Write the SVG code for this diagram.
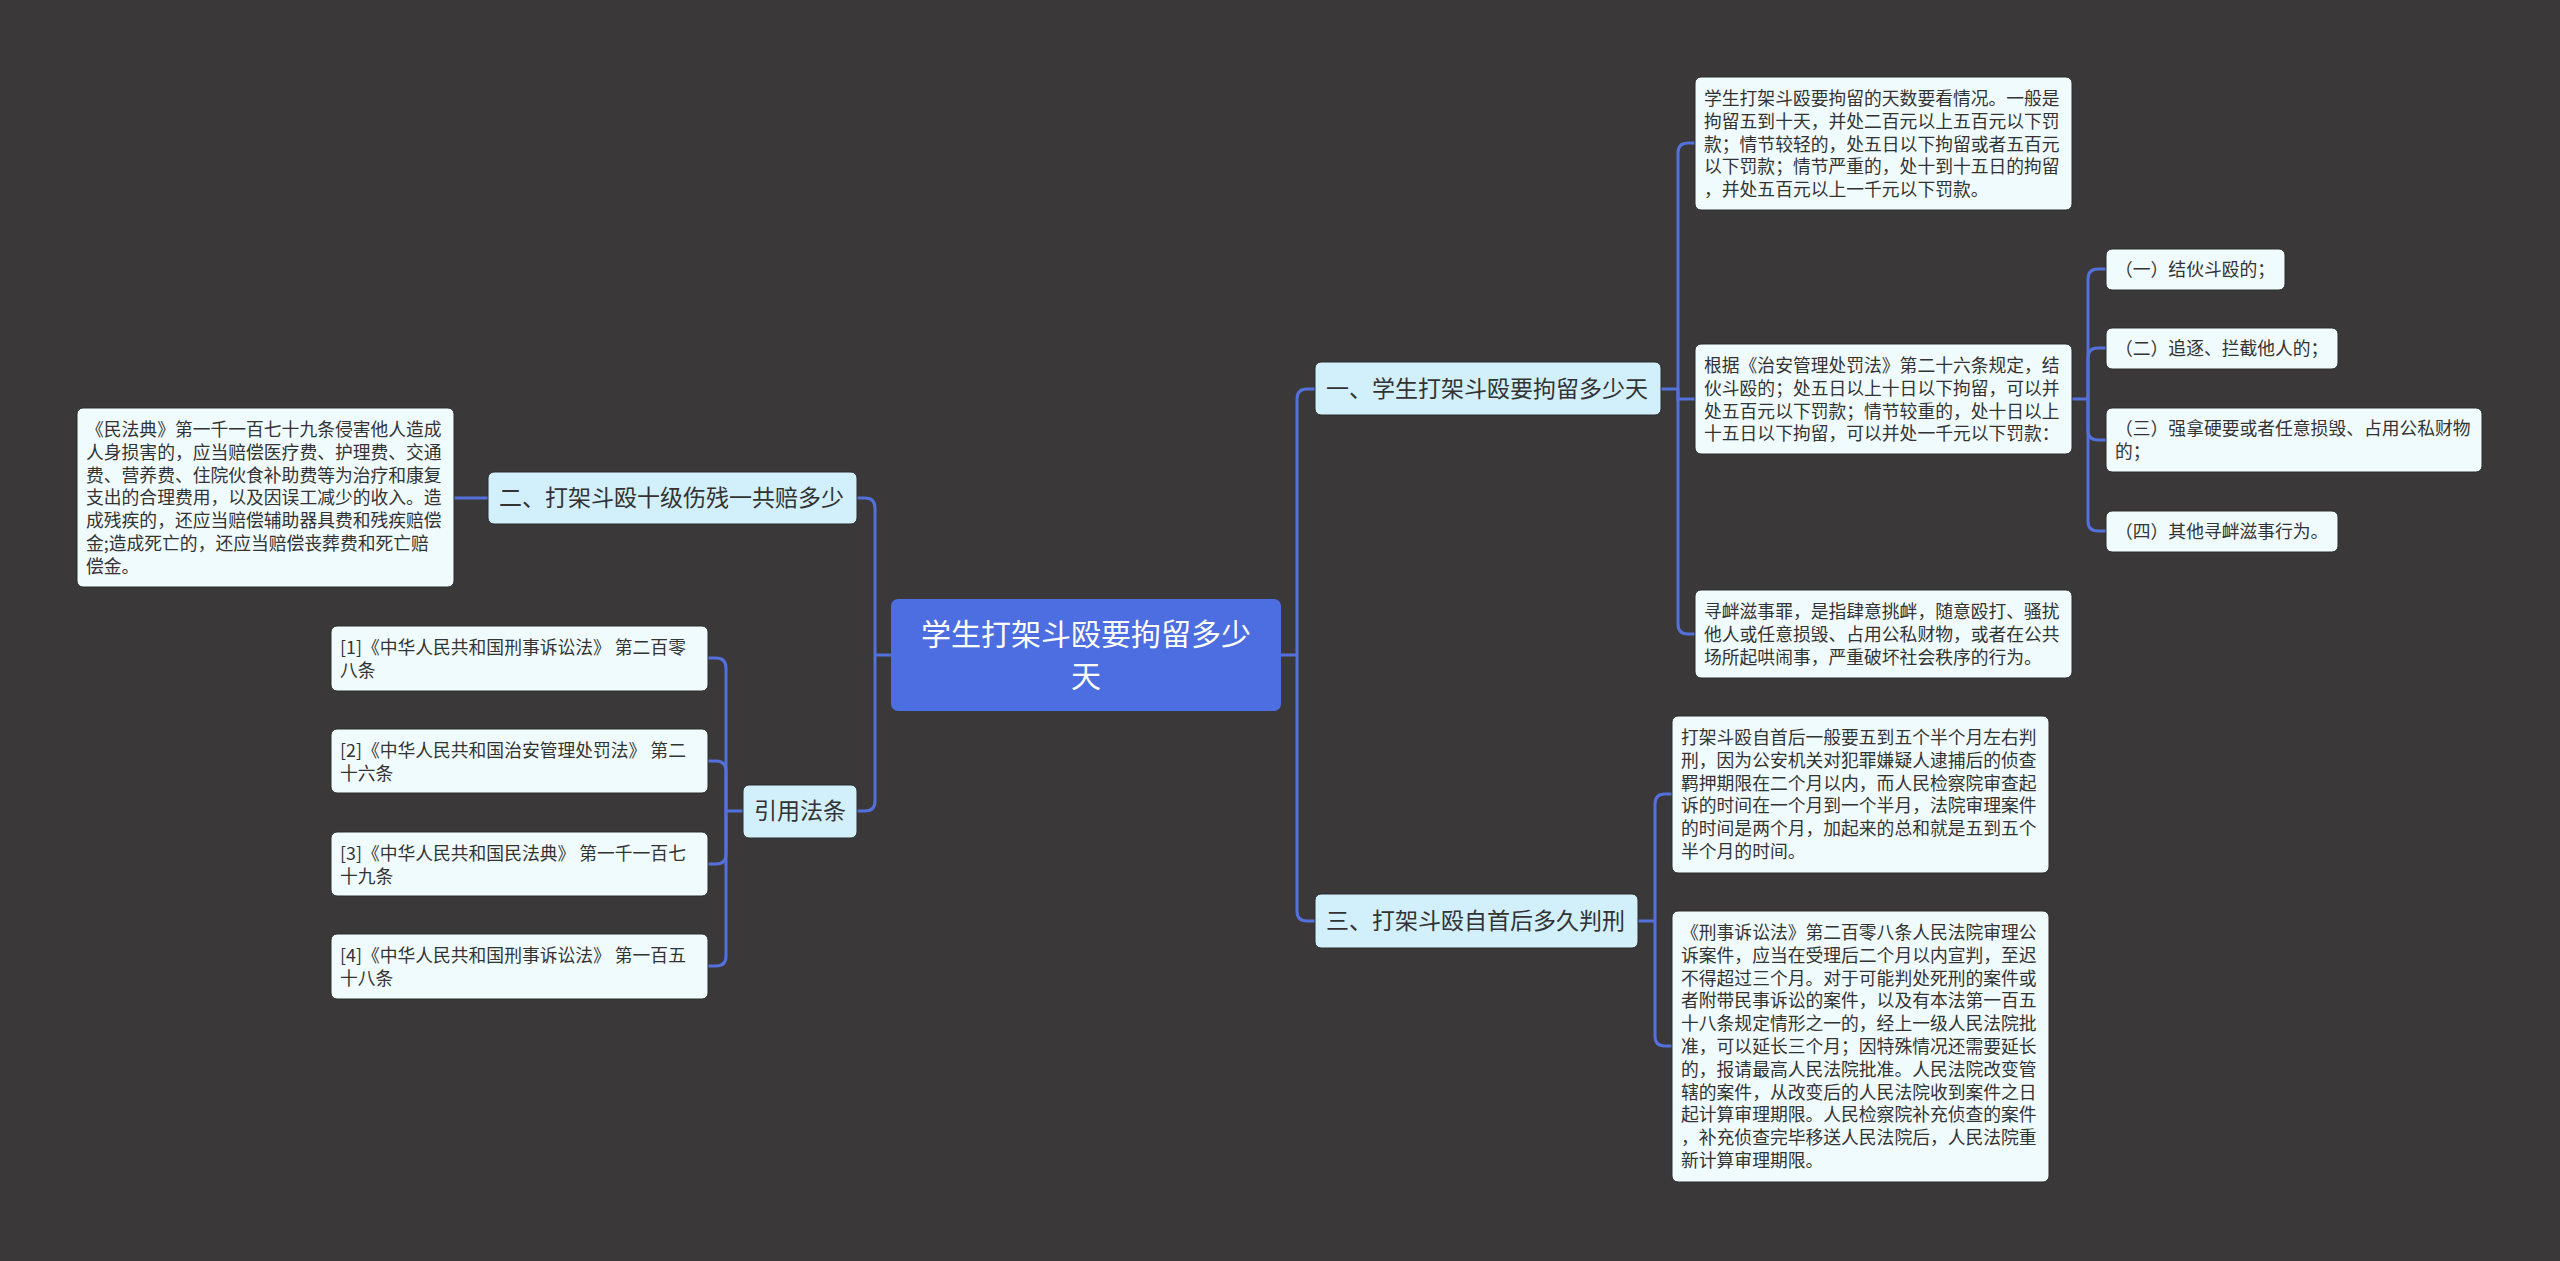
<svg xmlns="http://www.w3.org/2000/svg" width="2560" height="1261" viewBox="0 0 2560 1261">
<style>
.bg{fill:#3a3839}
.root{fill:#4c6ee0}
.br{fill:#d2f0fc;stroke:#2c2c2c;stroke-width:1}
.lf{fill:#f0fbfd;stroke:#2c2c2c;stroke-width:1}
text{font-family:"Noto Sans CJK SC","Microsoft YaHei","Noto Sans",sans-serif}
.rt{font-size:30px;fill:#ffffff;text-anchor:middle}
.bt{font-size:23px;fill:#333333}
.lt{font-size:17.8px;fill:#333333}
.cn{fill:none;stroke:#5470da;stroke-width:3}
</style>
<rect class="bg" x="0" y="0" width="2560" height="1261"/>
<g id="connectors">
<path class="cn" d="M1281,655 H1297"/>
<path class="cn" d="M1297,655 V399 Q1297,389 1307,389 H1315"/>
<path class="cn" d="M1297,655 V911 Q1297,921 1307,921 H1315"/>
<path class="cn" d="M1661,389 H1678"/>
<path class="cn" d="M1678,389 V153 Q1678,143 1688,143 H1695"/>
<path class="cn" d="M1678,389 V399 H1695"/>
<path class="cn" d="M1678,389 V624 Q1678,634 1688,634 H1695"/>
<path class="cn" d="M2072,399 H2088"/>
<path class="cn" d="M2088,399 V279 Q2088,269 2098,269 H2106"/>
<path class="cn" d="M2088,399 V358 Q2088,348 2098,348 H2106"/>
<path class="cn" d="M2088,399 V430 Q2088,440 2098,440 H2106"/>
<path class="cn" d="M2088,399 V521 Q2088,531 2098,531 H2106"/>
<path class="cn" d="M1638,921 H1655"/>
<path class="cn" d="M1655,921 V804 Q1655,794 1665,794 H1672"/>
<path class="cn" d="M1655,921 V1036 Q1655,1046 1665,1046 H1672"/>
<path class="cn" d="M891,655 H875"/>
<path class="cn" d="M875,655 V508 Q875,498 865,498 H857"/>
<path class="cn" d="M875,655 V801 Q875,811 865,811 H857"/>
<path class="cn" d="M488,498 H454"/>
<path class="cn" d="M743,811 H726"/>
<path class="cn" d="M726,811 V668 Q726,658 716,658 H708"/>
<path class="cn" d="M726,811 V771 Q726,761 716,761 H708"/>
<path class="cn" d="M726,811 V854 Q726,864 716,864 H708"/>
<path class="cn" d="M726,811 V956 Q726,966 716,966 H708"/>
</g>
<g id="root">
<rect class="root" x="891" y="599" width="390" height="112" rx="7"/>
<text class="rt" x="1086" y="645">学生打架斗殴要拘留多少</text>
<text class="rt" x="1086" y="687">天</text>
</g>
<g id="b1">
<rect class="br" x="1315" y="362" width="346" height="53" rx="6"/>
<text class="bt" x="1326" y="397">一、学生打架斗殴要拘留多少天</text>
</g>
<g id="b3">
<rect class="br" x="1315" y="894" width="323" height="54" rx="6"/>
<text class="bt" x="1326" y="929">三、打架斗殴自首后多久判刑</text>
</g>
<g id="b2">
<rect class="br" x="488" y="472" width="369" height="52" rx="6"/>
<text class="bt" x="499" y="506">二、打架斗殴十级伤残一共赔多少</text>
</g>
<g id="b4">
<rect class="br" x="743" y="785" width="114" height="53" rx="6"/>
<text class="bt" x="754" y="819">引用法条</text>
</g>
<g id="l1">
<rect class="lf" x="1695" y="77" width="377" height="133" rx="6"/>
<text class="lt" x="1704" y="105">学生打架斗殴要拘留的天数要看情况。一般是</text>
<text class="lt" x="1704" y="127.8">拘留五到十天，并处二百元以上五百元以下罚</text>
<text class="lt" x="1704" y="150.6">款；情节较轻的，处五日以下拘留或者五百元</text>
<text class="lt" x="1704" y="173.4">以下罚款；情节严重的，处十到十五日的拘留</text>
<text class="lt" x="1704" y="196.2">，并处五百元以上一千元以下罚款。</text>
</g>
<g id="l2">
<rect class="lf" x="1695" y="344" width="377" height="110" rx="6"/>
<text class="lt" x="1704" y="372">根据《治安管理处罚法》第二十六条规定，结</text>
<text class="lt" x="1704" y="394.8">伙斗殴的；处五日以上十日以下拘留，可以并</text>
<text class="lt" x="1704" y="417.6">处五百元以下罚款；情节较重的，处十日以上</text>
<text class="lt" x="1704" y="440.4">十五日以下拘留，可以并处一千元以下罚款：</text>
</g>
<g id="l3">
<rect class="lf" x="1695" y="590" width="377" height="88" rx="6"/>
<text class="lt" x="1704" y="618">寻衅滋事罪，是指肆意挑衅，随意殴打、骚扰</text>
<text class="lt" x="1704" y="640.8">他人或任意损毁、占用公私财物，或者在公共</text>
<text class="lt" x="1704" y="663.6">场所起哄闹事，严重破坏社会秩序的行为。</text>
</g>
<g id="s1">
<rect class="lf" x="2106" y="249" width="179" height="41" rx="6"/>
<text class="lt" x="2115" y="276">（一）结伙斗殴的；</text>
</g>
<g id="s2">
<rect class="lf" x="2106" y="328" width="232" height="41" rx="6"/>
<text class="lt" x="2115" y="355">（二）追逐、拦截他人的；</text>
</g>
<g id="s3">
<rect class="lf" x="2106" y="408" width="376" height="64" rx="6"/>
<text class="lt" x="2115" y="435">（三）强拿硬要或者任意损毁、占用公私财物</text>
<text class="lt" x="2115" y="457.8">的；</text>
</g>
<g id="s4">
<rect class="lf" x="2106" y="511" width="232" height="41" rx="6"/>
<text class="lt" x="2115" y="538">（四）其他寻衅滋事行为。</text>
</g>
<g id="l5">
<rect class="lf" x="1672" y="716" width="377" height="157" rx="6"/>
<text class="lt" x="1681" y="744">打架斗殴自首后一般要五到五个半个月左右判</text>
<text class="lt" x="1681" y="766.8">刑，因为公安机关对犯罪嫌疑人逮捕后的侦查</text>
<text class="lt" x="1681" y="789.6">羁押期限在二个月以内，而人民检察院审查起</text>
<text class="lt" x="1681" y="812.4">诉的时间在一个月到一个半月，法院审理案件</text>
<text class="lt" x="1681" y="835.2">的时间是两个月，加起来的总和就是五到五个</text>
<text class="lt" x="1681" y="858">半个月的时间。</text>
</g>
<g id="l6">
<rect class="lf" x="1672" y="911" width="377" height="271" rx="6"/>
<text class="lt" x="1681" y="939">《刑事诉讼法》第二百零八条人民法院审理公</text>
<text class="lt" x="1681" y="961.8">诉案件，应当在受理后二个月以内宣判，至迟</text>
<text class="lt" x="1681" y="984.6">不得超过三个月。对于可能判处死刑的案件或</text>
<text class="lt" x="1681" y="1007.4">者附带民事诉讼的案件，以及有本法第一百五</text>
<text class="lt" x="1681" y="1030.2">十八条规定情形之一的，经上一级人民法院批</text>
<text class="lt" x="1681" y="1053">准，可以延长三个月；因特殊情况还需要延长</text>
<text class="lt" x="1681" y="1075.8">的，报请最高人民法院批准。人民法院改变管</text>
<text class="lt" x="1681" y="1098.6">辖的案件，从改变后的人民法院收到案件之日</text>
<text class="lt" x="1681" y="1121.4">起计算审理期限。人民检察院补充侦查的案件</text>
<text class="lt" x="1681" y="1144.2">，补充侦查完毕移送人民法院后，人民法院重</text>
<text class="lt" x="1681" y="1167">新计算审理期限。</text>
</g>
<g id="l7">
<rect class="lf" x="77" y="408" width="377" height="179" rx="6"/>
<text class="lt" x="86" y="436">《民法典》第一千一百七十九条侵害他人造成</text>
<text class="lt" x="86" y="458.8">人身损害的，应当赔偿医疗费、护理费、交通</text>
<text class="lt" x="86" y="481.6">费、营养费、住院伙食补助费等为治疗和康复</text>
<text class="lt" x="86" y="504.4">支出的合理费用，以及因误工减少的收入。造</text>
<text class="lt" x="86" y="527.2">成残疾的，还应当赔偿辅助器具费和残疾赔偿</text>
<text class="lt" x="86" y="550">金;造成死亡的，还应当赔偿丧葬费和死亡赔</text>
<text class="lt" x="86" y="572.8">偿金。</text>
</g>
<g id="r1">
<rect class="lf" x="331" y="626" width="377" height="65" rx="6"/>
<text class="lt" x="340" y="654">[1]《中华人民共和国刑事诉讼法》 第二百零</text>
<text class="lt" x="340" y="676.8">八条</text>
</g>
<g id="r2">
<rect class="lf" x="331" y="729" width="377" height="64" rx="6"/>
<text class="lt" x="340" y="757">[2]《中华人民共和国治安管理处罚法》 第二</text>
<text class="lt" x="340" y="779.8">十六条</text>
</g>
<g id="r3">
<rect class="lf" x="331" y="832" width="377" height="64" rx="6"/>
<text class="lt" x="340" y="860">[3]《中华人民共和国民法典》 第一千一百七</text>
<text class="lt" x="340" y="882.8">十九条</text>
</g>
<g id="r4">
<rect class="lf" x="331" y="934" width="377" height="65" rx="6"/>
<text class="lt" x="340" y="962">[4]《中华人民共和国刑事诉讼法》 第一百五</text>
<text class="lt" x="340" y="984.8">十八条</text>
</g>
</svg>
